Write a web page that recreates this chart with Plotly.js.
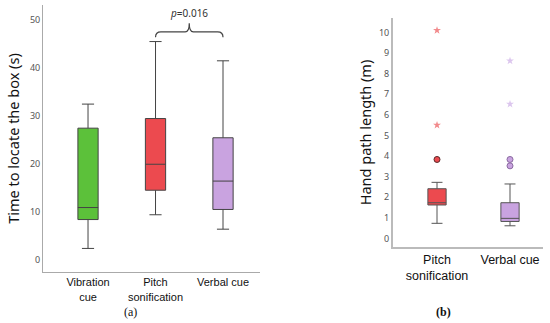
<!DOCTYPE html>
<html><head><meta charset="utf-8">
<script src="https://cdn.plot.ly/plotly-3.0.1.min.js"></script>
<style>html,body{margin:0;padding:0;background:#fff}#chart{width:550px;height:323px}</style>
</head><body><div id="chart"></div>
<script>
// Panel (a): time to locate the box (s)
const catsA = ["Vibration<br>cue", "Pitch<br>sonification", "Verbal cue"];
const lowA = [2.4, 9.4, 6.4];
const q1A = [8.4, 14.5, 10.5];
const medA = [10.9, 19.9, 16.4];
const q3A = [27.4, 29.4, 25.4];
const highA = [32.4, 45.4, 41.4];
const colorsA = ["#5cc13a", "#ec4a4f", "#c9a3e0"];
const pText = "<i>p</i>=0.016";

// Panel (b): hand path length (m)
const catsB = ["Pitch<br>sonification", "Verbal cue"];
const lowB = [0.73, 0.61];
const q1B = [1.62, 0.82];
const medB = [1.73, 0.97];
const q3B = [2.41, 1.73];
const highB = [2.72, 2.64];
const colorsB = ["#ec4a4f", "#c9a3e0"];
const outCircleB = [[3.83], [3.83, 3.52]];
const outStarB = [[5.5, 10.1], [6.52, 8.62]];

const traces = [];
catsA.forEach((c, i) => {
  traces.push({
    type: "box", x: [i], q1: [q1A[i]], median: [medA[i]], q3: [q3A[i]],
    lowerfence: [lowA[i]], upperfence: [highA[i]],
    width: 0.3, whiskerwidth: 0.6, fillcolor: colorsA[i],
    line: {color: "#444", width: 1}, xaxis: "x", yaxis: "y",
    showlegend: false, hoverinfo: "skip"
  });
});
catsB.forEach((c, i) => {
  traces.push({
    type: "box", x: [i], q1: [q1B[i]], median: [medB[i]], q3: [q3B[i]],
    lowerfence: [lowB[i]], upperfence: [highB[i]],
    width: 0.25, whiskerwidth: 0.6, fillcolor: colorsB[i],
    line: {color: "#555", width: 1}, xaxis: "x2", yaxis: "y2",
    showlegend: false, hoverinfo: "skip"
  });
  traces.push({
    type: "scatter", mode: "markers", x: outCircleB[i].map(() => i), y: outCircleB[i],
    marker: {symbol: "circle", size: 6, color: colorsB[i], line: {color: i === 0 ? "#5a2a2a" : "#8a6aa0", width: 1}},
    xaxis: "x2", yaxis: "y2", showlegend: false, hoverinfo: "skip"
  });
  traces.push({
    type: "scatter", mode: "markers", x: outStarB[i].map(() => i), y: outStarB[i],
    marker: {symbol: "star", size: 6, color: i === 0 ? "#f28a8c" : "#dcc6ee", line: {width: 0}},
    xaxis: "x2", yaxis: "y2", showlegend: false, hoverinfo: "skip"
  });
});

const tickFont = {family: "Noto Sans, sans-serif", size: 9, color: "#555"};
const catFont = {family: "Liberation Sans, Arial, sans-serif", size: 11, color: "#111"};
const titleFont = {family: "Noto Sans, sans-serif", size: 14.5, color: "#111"};

const layout = {
  width: 550, height: 323,
  margin: {l: 0, r: 0, t: 0, b: 0},
  paper_bgcolor: "#fff", plot_bgcolor: "#fff",
  showlegend: false,
  xaxis: {
    domain: [43/550, 260/550], anchor: "y", range: [-0.667, 2.548],
    tickvals: [0, 1, 2], ticktext: catsA, tickfont: catFont,
    showgrid: false, zeroline: false, showline: true, linecolor: "#aaa", linewidth: 1,
    ticks: "", fixedrange: true
  },
  yaxis: {
    domain: [51/323, 318/323], anchor: "x", range: [-2.5, 53],
    tickvals: [0, 10, 20, 30, 40, 50], tickfont: tickFont,
    showgrid: false, zeroline: false, showline: true, linecolor: "#aaa", linewidth: 1,
    ticks: "", title: {text: "Time to locate the box (s)", font: titleFont, standoff: 6}
  },
  xaxis2: {
    domain: [393/550, 543/550], anchor: "y2", range: [-0.603, 1.452],
    tickvals: [0, 1], ticktext: catsB, tickfont: Object.assign({}, catFont, {size: 12.5}),
    showgrid: false, zeroline: false, showline: true, linecolor: "#bbb", linewidth: 2,
    ticks: ""
  },
  yaxis2: {
    domain: [76/323, 305/323], anchor: "x2", range: [-0.42, 10.7],
    tickvals: [0, 1, 2, 3, 4, 5, 6, 7, 8, 9, 10], tickfont: tickFont,
    showgrid: false, zeroline: false, showline: true, linecolor: "#bbb", linewidth: 2,
    ticks: "", title: {text: "Hand path length (m)", font: titleFont, standoff: 4}
  },
  shapes: [{
    type: "path", xref: "x", yref: "y",
    path: "M 1,46.3 Q 1,47.4 1.08,47.4 L 1.44,47.4 Q 1.5,47.4 1.5,49.2 Q 1.5,47.4 1.56,47.4 L 1.92,47.4 Q 2,47.4 2,46.3",
    line: {color: "#444", width: 1.2}
  }],
  annotations: [
    {xref: "x", yref: "y", x: 1.5, y: 51.3, text: pText, showarrow: false, yanchor: "middle",
     font: {family: "Noto Sans, sans-serif", size: 10, color: "#333"}},
    {xref: "paper", yref: "paper", x: 130/550, y: (323-312)/323, text: "(a)", showarrow: false,
     xanchor: "center", yanchor: "middle",
     font: {family: "Liberation Serif, Times New Roman, serif", size: 12, color: "#111"}},
    {xref: "paper", yref: "paper", x: 443/550, y: (323-312)/323, text: "<b>(b)</b>", showarrow: false,
     xanchor: "center", yanchor: "middle",
     font: {family: "Liberation Serif, Times New Roman, serif", size: 12, color: "#111"}}
  ]
};

Plotly.newPlot("chart", traces, layout, {displayModeBar: false, staticPlot: true});
</script>
</body></html>
